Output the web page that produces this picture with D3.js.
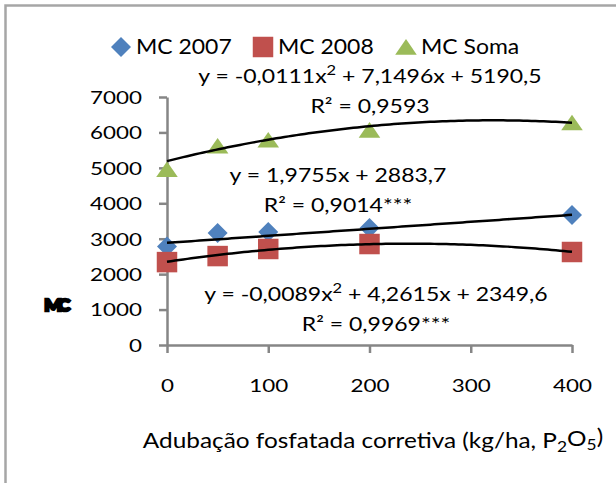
<!DOCTYPE html>
<html>
<head>
<meta charset="utf-8">
<script src="https://cdn.jsdelivr.net/npm/d3@7"></script>
<style>
  body { margin: 0; background: #fff; }
  text { font-family: Lato, "Open Sans", sans-serif; fill: #000; }
</style>
</head>
<body>
<script>
//Data
var doses = [0, 50, 100, 200, 400];
var mc2007 = [2780, 3160, 3190, 3300, 3670];
var mc2008 = [2340, 2510, 2710, 2850, 2625];
var mcSoma = [4960, 5620, 5790, 6070, 6280];
var seriesNames = ["MC 2007", "MC 2008", "MC Soma"];
var seriesColors = ["#4F81BD", "#C0504D", "#9BBB59"];
var xTicks = [0, 100, 200, 300, 400];
var yTicks = [0, 1000, 2000, 3000, 4000, 5000, 6000, 7000];

//Trendline coefficients [a, b, c] for y = a*x^2 + b*x + c
var trend2007 = [0, 1.9755, 2883.7];
var trend2008 = [-0.0089, 4.2615, 2349.6];
var trendSoma = [-0.0111, 7.1496, 5190.5];

//Trendline labels
var eq2007 = ["y = 1,9755x + 2883,7", "R² = 0,9014***"];
var eq2008 = ["y = -0,0089x", "2", " + 4,2615x + 2349,6", "R² = 0,9969***"];
var eqSoma = ["y = -0,0111x", "2", " + 7,1496x + 5190,5", "R² = 0,9593"];

var W = 616, H = 483;

var svg = d3.select("body").append("svg")
    .attr("width", W)
    .attr("height", H);

//Chart border
svg.append("rect")
    .attr("x", 5.5).attr("y", 5.5)
    .attr("width", W).attr("height", H)
    .attr("fill", "none")
    .attr("stroke", "#A6A6A6")
    .attr("stroke-width", 2.5);

var x = d3.scaleLinear().domain([0, 400]).range([167, 572]);
var y = d3.scaleLinear().domain([0, 7000]).range([345, 97]);

//Axes
var yAxis = svg.append("g")
    .attr("transform", "translate(" + x(0) + ",0)")
    .call(d3.axisLeft(y).tickValues(yTicks).tickFormat(d3.format("d"))
        .tickSize(8).tickSizeOuter(0).tickPadding(0));
var xAxis = svg.append("g")
    .attr("transform", "translate(0," + y(0) + ")")
    .call(d3.axisBottom(x).tickValues(xTicks).tickFormat(d3.format("d"))
        .tickSize(8).tickSizeOuter(0).tickPadding(0));

[yAxis, xAxis].forEach(function(ax) {
    ax.selectAll("path, line").attr("stroke", "#868686").attr("stroke-width", 2.5);
    ax.selectAll("text").attr("font-family", null).attr("font-size", 17.5);
});
yAxis.selectAll("text")
    .attr("x", null).attr("dy", "0.36em")
    .attr("transform", "translate(-25,0) scale(1.28,1)");
xAxis.selectAll("text")
    .attr("y", null).attr("dy", "0.36em")
    .attr("transform", "translate(0,41) scale(1.28,1)");

//stretched text helper
function label(x0, y0, size, sx, anchor) {
    return svg.append("text")
        .attr("transform", "translate(" + x0 + "," + y0 + ") scale(" + sx + ",1)")
        .attr("font-size", size)
        .attr("dy", "0.36em")
        .attr("text-anchor", anchor || "middle");
}

//Axis titles
var xt = label(373, 440, 21, 1.16);
xt.append("tspan").text("Adubação fosfatada  corretiva (kg/ha, P");
xt.append("tspan").attr("font-size", 15).attr("dy", "0.3em").text("2");
xt.append("tspan").attr("dy", "-0.3em").text("O");
xt.append("tspan").attr("font-size", 15).attr("dy", "0.3em").text("5");
xt.append("tspan").attr("dy", "-0.3em").text(")");

//garbled rotated y title (rendered as a dark smudge in the reference)
label(55, 305, 17, 1.1, "middle")
    .attr("font-weight", 900)
    .attr("letter-spacing", -4)
    .attr("stroke", "#000")
    .attr("stroke-width", 2.5)
    .text("MC");

//Markers
var symbols = [d3.symbolDiamond2, d3.symbolSquare, d3.symbolTriangle];
var symbolSizes = [255, 420, 140];
var symbolSx = [1.0, 1, 1.2];
function marker(sel, i, cx, cy) {
    sel.append("path")
        .attr("d", d3.symbol().type(symbols[i]).size(symbolSizes[i]))
        .attr("transform", "translate(" + cx + "," + cy + ") scale(" + symbolSx[i] + ",1)" + (i == 2 ? " translate(0,2.5)" : ""))
        .attr("fill", seriesColors[i]);
}

var allSeries = [mc2007, mc2008, mcSoma];
allSeries.forEach(function(vals, i) {
    var g = svg.append("g");
    vals.forEach(function(v, j) {
        marker(g, i, x(doses[j]), y(v));
    });
});

//Trendlines
var xs = d3.range(0, 401, 4);
var line = d3.line()
    .x(function(d) { return x(d[0]); })
    .y(function(d) { return y(d[1]); });
[trend2007, trend2008, trendSoma].forEach(function(c) {
    svg.append("path")
        .datum(xs.map(function(v) { return [v, c[0] * v * v + c[1] * v + c[2]]; }))
        .attr("d", line)
        .attr("fill", "none")
        .attr("stroke", "#000")
        .attr("stroke-width", 2.5);
});

//Legend
var legendX = [121, 263, 406];
seriesNames.forEach(function(name, i) {
    marker(svg, i, legendX[i], 47);
    label(legendX[i] + 15, 47, 20.5, 1.12, "start").text(name);
});

//Equation labels
function polyLabel(cx, cy, eq) {
    var t = label(cx, cy, 19.5, 1.18);
    t.append("tspan").text(eq[0]);
    t.append("tspan").attr("font-size", 14).attr("dy", "-0.55em").text(eq[1]);
    t.append("tspan").attr("dy", "0.39em").text(eq[2]);
    label(cx, cy + 30, 19.5, 1.18).text(eq[3]);
}
polyLabel(370, 76, eqSoma);
polyLabel(376, 294, eq2008);
label(338, 175, 19.5, 1.18).text(eq2007[0]);
label(338, 205, 19.5, 1.18).text(eq2007[1]);
</script>
</body>
</html>
